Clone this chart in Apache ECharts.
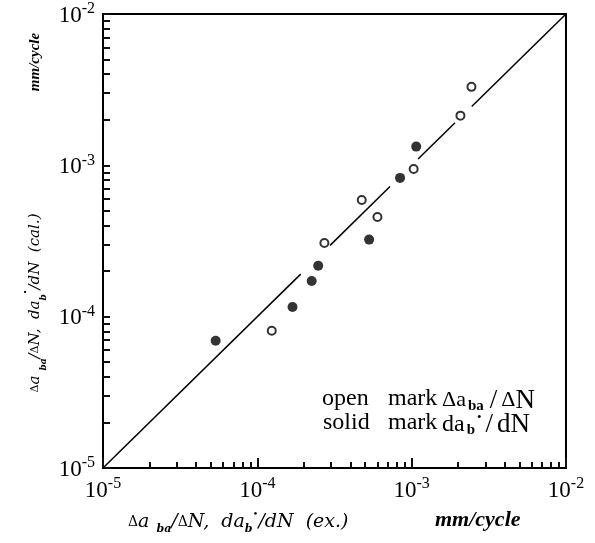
<!DOCTYPE html>
<html>
<head>
<meta charset="utf-8">
<script src="https://cdn.jsdelivr.net/npm/echarts@6/dist/echarts.min.js"></script>
<style>html,body{margin:0;padding:0;background:#fff}#c{width:595px;height:543px}</style>
</head>
<body>
<div id="c"></div>
<script>
const openX  = [1.24e-4, 2.72e-4, 4.75e-4, 6.00e-4, 1.03e-3, 2.07e-3, 2.44e-3];
const openY  = [8.07e-5, 3.07e-4, 5.90e-4, 4.56e-4, 9.46e-4, 2.13e-3, 3.30e-3];
const solidX = [5.37e-5, 1.69e-4, 2.25e-4, 2.48e-4, 5.30e-4, 8.41e-4, 1.07e-3];
const solidY = [6.93e-5, 1.16e-4, 1.72e-4, 2.17e-4, 3.23e-4, 8.26e-4, 1.33e-3];
// y = x reference line, drawn as broken segments [start, end]
const lineSegStarts = [1e-5, 2.96e-4, 1.10e-3, 2.45e-3];
const lineSegEnds   = [1.91e-4, 7.24e-4, 1.91e-3, 1e-2];
// axis range (decades)
const axisMin = 1e-5;
const axisMax = 1e-2;

const serif = 'Liberation Serif';
const dvs = 'DejaVu Serif';
function expLabel(v) {
  const e = Math.round(Math.log10(v));
  return '{b|10}{s|' + e + '}';
}
const labelRich = {
  b: { fontFamily: serif, fontSize: 23, color: '#000', lineHeight: 26, verticalAlign: 'bottom' },
  s: { fontFamily: serif, fontSize: 16, color: '#000', lineHeight: 26, verticalAlign: 'top' }
};

const series = [];
lineSegStarts.forEach(function (s, i) {
  series.push({
    type: 'line', symbol: 'none', silent: true,
    lineStyle: { color: '#000', width: 1.5 },
    data: [[s, s], [lineSegEnds[i], lineSegEnds[i]]]
  });
});
series.push({
  type: 'scatter', symbol: 'circle', symbolSize: 10,
  itemStyle: { color: '#000' },
  data: solidX.map(function (x, i) { return [x, solidY[i]]; })
});
series.push({
  type: 'scatter', symbol: 'circle', symbolSize: 8,
  itemStyle: { color: '#fff', borderColor: '#000', borderWidth: 2 },
  data: openX.map(function (x, i) { return [x, openY[i]]; })
});

function titleRich(sz, fam) {
  return {
    d: { fontFamily: fam, fontSize: Math.round(sz * 0.72), color: '#000', lineHeight: 26 },
    i: { fontFamily: fam, fontStyle: 'italic', fontSize: sz, color: '#000', lineHeight: 26 },
    u: { fontFamily: fam, fontStyle: 'italic', fontWeight: 'bold', fontSize: Math.round(sz * 0.6), color: '#000', lineHeight: 26, verticalAlign: 'bottom', padding: [0, 0, 0, Math.round(sz * 0.35)] },
    v: { fontFamily: fam, fontStyle: 'italic', fontWeight: 'bold', fontSize: Math.round(sz * 0.6), color: '#000', lineHeight: 26, verticalAlign: 'bottom' },
    p: { fontFamily: fam, fontSize: Math.round(sz * 0.5), color: '#000', lineHeight: 26, verticalAlign: 'top' },
    m: { fontFamily: serif, fontStyle: 'italic', fontWeight: 'bold', fontSize: sz, color: '#000', lineHeight: 26 }
  };
}
const legRich = {
  t: { fontFamily: serif, fontSize: 24, color: '#000', lineHeight: 26 },
  n: { fontFamily: serif, fontSize: 27, color: '#000', lineHeight: 26 },
  g: { fontFamily: serif, fontSize: 22, color: '#000', lineHeight: 26 },
  s: { fontFamily: serif, fontSize: 27, color: '#000', lineHeight: 26, padding: [0, 4, 0, 4] },
  u: { fontFamily: serif, fontSize: 15, fontWeight: 'bold', color: '#000', lineHeight: 26, verticalAlign: 'bottom', padding: [0, 2, 0, 2] },
  p: { fontFamily: serif, fontSize: 13, color: '#000', lineHeight: 26, verticalAlign: 'top' }
};
const axTitle = '{d|Δ}{i|a}{u|ba}{i|/}{d|Δ}{i|N,  da}{v|b}{p|•}{i|/dN  }';

const textGraphics = [
  { type: 'text', left: 128, top: 509, style: { text: axTitle + '{i|(ex.)}', rich: titleRich(19, dvs) } },
  { type: 'text', left: 435, top: 509, style: { text: '{m|mm/cycle}', rich: titleRich(22, dvs) } },
  { type: 'text', x: 35, y: 303, rotation: Math.PI / 2,
    style: { text: axTitle + '{i|(cal.)}', rich: titleRich(15, dvs), align: 'center', verticalAlign: 'middle' } },
  { type: 'text', x: 35, y: 62, rotation: Math.PI / 2,
    style: { text: '{m|mm/cycle}', rich: titleRich(15, dvs), align: 'center', verticalAlign: 'middle' } },
  { type: 'text', left: 322, top: 387, style: { text: '{t|open}', rich: legRich } },
  { type: 'text', left: 388, top: 387, style: { text: '{t|mark}', rich: legRich } },
  { type: 'text', left: 442, top: 387, style: { text: '{g|Δa}{u|ba}{s|/}{g|Δ}{n|N}', rich: legRich } },
  { type: 'text', left: 323, top: 411, style: { text: '{t|solid}', rich: legRich } },
  { type: 'text', left: 388, top: 411, style: { text: '{t|mark}', rich: legRich } },
  { type: 'text', left: 442, top: 411, style: { text: '{t|da}{u|b}{p|•}{s|/}{n|dN}', rich: legRich } }
];

const chart = echarts.init(document.getElementById('c'), null, { renderer: 'canvas' });
chart.setOption({
  animation: false,
  backgroundColor: '#fff',
  grid: { left: 103, right: 29, top: 14, bottom: 75, show: true, borderColor: '#000', borderWidth: 2, backgroundColor: 'transparent' },
  xAxis: {
    type: 'log', logBase: 10, min: axisMin, max: axisMax,
    axisLine: { lineStyle: { color: '#000', width: 2 } },
    axisTick: { show: true, inside: true, length: 10, lineStyle: { color: '#111', width: 2 } },
    minorTick: { show: true, splitNumber: 9, length: 6, lineStyle: { color: '#111', width: 2 } },
    axisLabel: { formatter: expLabel, rich: labelRich, margin: 8, hideOverlap: false },
    splitLine: { show: false }
  },
  yAxis: {
    type: 'log', logBase: 10, min: axisMin, max: axisMax,
    axisLine: { lineStyle: { color: '#000', width: 2 } },
    axisTick: { show: true, inside: true, length: 7, lineStyle: { color: '#111', width: 2 } },
    minorTick: { show: true, splitNumber: 9, length: 7, lineStyle: { color: '#111', width: 2 } },
    axisLabel: { formatter: expLabel, rich: labelRich, margin: 8, hideOverlap: false },
    splitLine: { show: false }
  },
  series: series,
  graphic: textGraphics
});
</script>
</body>
</html>
